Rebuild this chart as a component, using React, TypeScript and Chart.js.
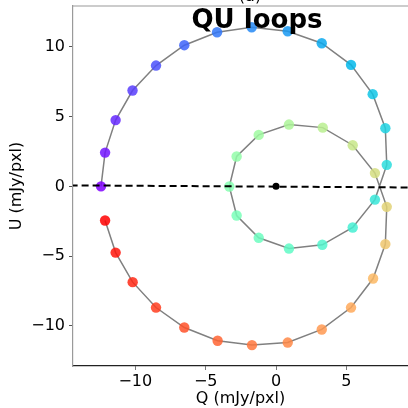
import { useEffect, useRef } from "react";
import { Chart, registerables } from "chart.js";

Chart.register(...registerables);

// Q and U values of the loop, in drawing (colour) order
const qValues = [
  -12.44, -12.15, -11.4, -10.2, -8.53, -6.52, -4.19, -1.73, 0.83, 3.25, 5.33, 6.87, 7.77, 7.87, 7.03,
  5.45, 3.29, 0.92, -1.23, -2.8, -3.32, -2.8, -1.23, 0.92, 3.32, 5.45, 7.03,
  7.87, 7.77, 6.9, 5.33, 3.25, 0.83, -1.71, -4.15, -6.52, -8.53, -10.19, -11.4, -12.15,
];
const uValues = [
  0.0, 2.42, 4.75, 6.87, 8.66, 10.12, 11.05, 11.41, 11.12, 10.26, 8.71, 6.61, 4.17, 1.54, -0.95,
  -2.95, -4.19, -4.46, -3.69, -2.09, -0.01, 2.14, 3.69, 4.43, 4.21, 2.95, 0.95,
  -1.47, -4.14, -6.61, -8.69, -10.26, -11.2, -11.38, -11.07, -10.12, -8.69, -6.87, -4.75, -2.45,
];
// dashed reference line
const dashedQ = [-14.6, 9.6];
const dashedU = [0.07, -0.08];
// centre marker
const centerQ = [0];
const centerU = [0];

const xTicks = [-10, -5, 0, 5];
const yTicks = [-10, -5, 0, 5, 10];
const xRange = [-14.43, 9.38];
const yRange = [-12.88, 12.93];

const titleText = "QU loops";
const panelText = "(a)";
const xLabel = "Q (mJy/pxl)";
const yLabel = "U (mJy/pxl)";

const FONT = "'DejaVu Sans', sans-serif";

function rainbow(t: number, a: number): string {
  const r = Math.min(1, Math.abs(2 * t - 0.5));
  const g = Math.sin(Math.PI * t);
  const b = Math.cos((Math.PI * t) / 2);
  return `rgba(${Math.round(r * 255)},${Math.round(g * 255)},${Math.round(b * 255)},${a})`;
}

function fmt(v: number): string {
  return v < 0 ? "\u2212" + Math.abs(v) : String(v);
}

const overlay = {
  id: "overlay",
  afterDraw(chart: any) {
    const { ctx, chartArea } = chart;
    ctx.save();
    ctx.strokeStyle = "#9a9a9a";
    ctx.lineWidth = 1.2;
    ctx.beginPath();
    ctx.moveTo(chartArea.left, chartArea.top);
    ctx.lineTo(chartArea.right, chartArea.top);
    ctx.stroke();
    ctx.fillStyle = "#000";
    ctx.textAlign = "center";
    ctx.textBaseline = "alphabetic";
    ctx.font = `bold 26px ${FONT}`;
    ctx.fillText(titleText, 257, 28);
    ctx.font = `16px ${FONT}`;
    ctx.fillText(panelText, 250, 1);
    ctx.restore();
  },
};

function zeroPad(s: any) {
  s.paddingTop = 0;
  s.paddingBottom = 0;
  s.paddingLeft = 0;
  s.paddingRight = 0;
}

export default function App() {
  const ref = useRef<HTMLCanvasElement | null>(null);
  useEffect(() => {
    if (!ref.current) return;
    Chart.defaults.font.family = FONT;
    const loop = qValues.map((q, i) => ({ x: q, y: uValues[i] }));
    const colors = qValues.map((_, i) => rainbow(i / (qValues.length - 1), 0.85));
    const chart = new Chart(ref.current, {
      type: "scatter",
      data: {
        datasets: [
          {
            data: centerQ.map((q, i) => ({ x: q, y: centerU[i] })),
            pointRadius: 3.5,
            pointBackgroundColor: "#000",
            pointBorderWidth: 0,
            order: 0,
          } as any,
          {
            data: dashedQ.map((q, i) => ({ x: q, y: dashedU[i] })),
            showLine: true,
            borderColor: "#000",
            borderWidth: 2,
            borderDash: [7, 4],
            pointRadius: 0,
            order: 1,
          },
          {
            data: loop,
            pointRadius: 5.2,
            pointBackgroundColor: colors,
            pointBorderWidth: 0,
            order: 2,
          },
          {
            data: loop,
            showLine: true,
            borderColor: "#808080",
            borderWidth: 1.5,
            pointRadius: 0,
            order: 3,
          },
        ],
      },
      options: {
        animation: false,
        responsive: false,
        devicePixelRatio: 1,
        layout: { autoPadding: false, padding: { left: 0, top: 6, right: 0, bottom: 0 } },
        plugins: { legend: { display: false }, tooltip: { enabled: false } },
        scales: {
          x: {
            type: "linear",
            min: xRange[0],
            max: xRange[1],
            afterBuildTicks: (s: any) => {
              s.ticks = xTicks.map((v) => ({ value: v }));
            },
            afterFit: (s: any) => {
              s.height = 42;
              zeroPad(s);
            },
            border: { color: "#222", width: 1.2 },
            grid: { drawOnChartArea: false, drawTicks: true, tickLength: 4, color: "#777" },
            ticks: { color: "#000", font: { size: 16 }, padding: 2, callback: (v: any) => fmt(Number(v)), maxRotation: 0 },
            title: { display: true, text: xLabel, color: "#000", font: { size: 16 }, padding: { top: 0, bottom: 0 } },
          },
          y: {
            type: "linear",
            min: yRange[0],
            max: yRange[1],
            afterBuildTicks: (s: any) => {
              s.ticks = yTicks.map((v) => ({ value: v }));
            },
            afterFit: (s: any) => {
              s.width = 73;
              zeroPad(s);
            },
            border: { color: "#9a9a9a", width: 1.2 },
            grid: { drawOnChartArea: false, drawTicks: true, tickLength: 4, color: "#555" },
            ticks: { color: "#000", font: { size: 16 }, padding: 4, callback: (v: any) => fmt(Number(v)) },
            title: { display: true, text: yLabel, color: "#000", font: { size: 16 }, padding: { top: 7, bottom: 0 } },
          },
        },
      },
      plugins: [overlay],
    });
    return () => chart.destroy();
  }, []);
  return (
    <div style={{ position: "absolute", left: 0, top: 0, width: 408, height: 408, overflow: "hidden", background: "#fff" }}>
      <canvas ref={ref} width={408} height={408} style={{ width: 408, height: 408, display: "block" }} />
    </div>
  );
}
